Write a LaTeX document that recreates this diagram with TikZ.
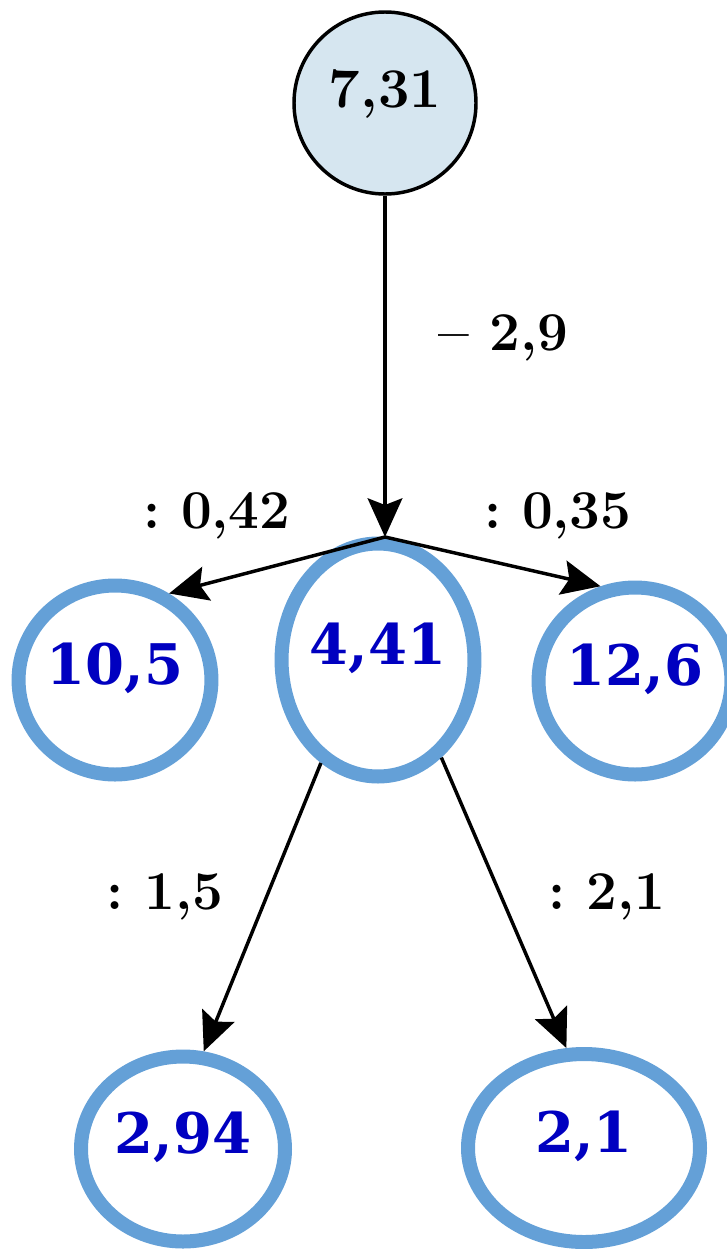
\documentclass[tikz,border=0pt]{standalone}
\usepackage{fontspec}
\newfontfamily\numface{DejaVu Serif}
\usetikzlibrary{arrows.meta,shapes.geometric}
\definecolor{ringblue}{HTML}{64A0D7}
\definecolor{numblue}{HTML}{0000C0}
\definecolor{topfill}{HTML}{D6E6F0}
\begin{document}
\begin{tikzpicture}[x=0.75pt,y=-0.75pt,
  ring/.style 2 args={ellipse, draw=ringblue, line width=10.5pt, inner sep=0pt,
    minimum width={#1*0.75pt}, minimum height={#2*0.75pt},
    text=numblue, font=\numface\bfseries\fontsize{42}{46}\selectfont,
    text height=0.73em, text depth=0pt},
  topnode/.style={circle, draw=black, line width=2.6pt, fill=topfill, inner sep=0pt,
    minimum size={182*0.75pt}, font=\bfseries\fontsize{42}{46}\selectfont,
    text height=0.66em, text depth=0pt},
  lbl/.style={font=\bfseries\fontsize{41}{46}\selectfont, inner sep=0pt, text height=0.66em, text depth=0pt},
  conn/.style={draw=black, line width=2.6pt, -{Stealth[length=29pt, width=26pt, inset=5pt]}}]
\useasboundingbox (0,0) rectangle (727,1249);

\node[topnode] (top) at (385,103) {7,31};

\node[ring={188}{189}] (L) at (115,680) {10,5};
\node[ring={186}{233}] (M) at (378,660) {4,41};
\node[ring={169}{187}] (R) at (635,681) {12,6};
\node[ring={204}{185}] (BL) at (183,1149) {2,94};
\node[ring={232}{188}] (BR) at (584,1148) {2,1};

\coordinate (j) at (385,537);

\draw[conn] (top.south) -- (j);
\draw[conn] (j) -- (L.58);
\draw[conn] (j) -- (R.110);
\draw[conn] (M.241) -- (BL.78);
\draw[conn] (M.303) -- (BR.100);

\node[lbl] (l29) at (503,346) {–~2,9};
\node[lbl] (l042) at (217,524) {:~0,42};
\node[lbl] (l035) at (558,524) {:~0,35};
\node[lbl] (l15) at (165,905) {:~1,5};
\node[lbl] (l21) at (607,905) {:~2,1};
\end{tikzpicture}
\end{document}
